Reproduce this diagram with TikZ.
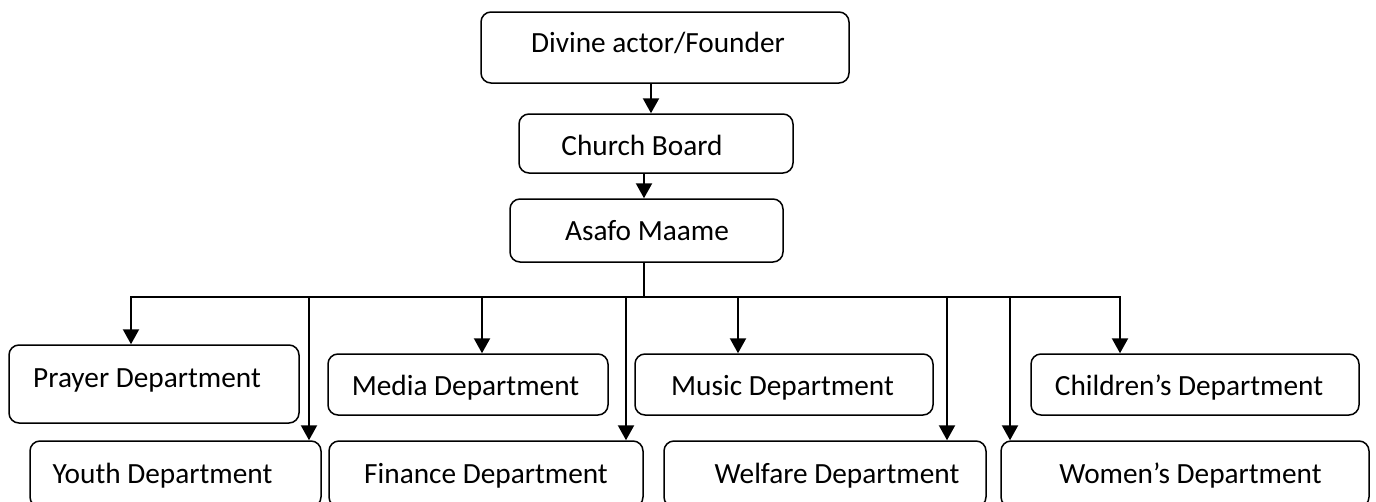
\documentclass[tikz,border=0pt]{standalone}
\usepackage{fontspec}
\setmainfont{Carlito}
\usetikzlibrary{arrows.meta}

\tikzset{
  unit/.style={draw, line width=1.5pt, rounded corners=10pt, inner sep=0pt},
  txt/.style={font=\fontsize{29.3}{34}\selectfont, text height=18.9pt, text depth=0pt, inner sep=0pt},
  arr/.style={line width=2.2pt, -{Triangle[width=16pt,length=15pt]}},
  bus/.style={line width=1.9pt},
}

\begin{document}
\begin{tikzpicture}[x=1pt, y=-1pt]
\useasboundingbox (0,0) rectangle (1376,501);
\fill[white] (0,0) rectangle (1376,501);
\clip (0,0) rectangle (1376,501);

% top of the hierarchy
\node[unit, minimum width=368pt, minimum height=71pt,
  label={[txt, xshift=-7pt, yshift=4.5pt]center:Divine actor/Founder}] (divine) at (665,47.5) {};
\node[unit, minimum width=274pt, minimum height=59pt,
  label={[txt, xshift=-14pt, yshift=-2.5pt]center:Church Board}] (board) at (656,143.5) {};
\node[unit, minimum width=273pt, minimum height=63pt,
  label={[txt, xshift=0.5pt, yshift=-1pt]center:Asafo Maame}] (asafo) at (646.5,230.5) {};

% upper row of departments
\node[unit, minimum width=290pt, minimum height=78pt,
  label={[txt, xshift=-7pt, yshift=6pt]center:Prayer Department}] (prayer) at (154,384) {};
\node[unit, minimum width=280pt, minimum height=61pt,
  label={[txt, xshift=-2.5pt, yshift=-1.5pt]center:Media Department}] (media) at (468,384.5) {};
\node[unit, minimum width=298pt, minimum height=61pt,
  label={[txt, xshift=-1.5pt, yshift=-1.5pt]center:Music Department}] (music) at (784,384.5) {};
\node[unit, minimum width=328pt, minimum height=61pt,
  label={[txt, xshift=-6pt, yshift=-1.5pt]center:Children’s Department}] (children) at (1195,384.5) {};

% lower row of departments (runs off the bottom edge)
\node[unit, minimum width=291pt, minimum height=66pt,
  label={[txt, xshift=-13pt]center:Youth Department}] (youth) at (175.5,474) {};
\node[unit, minimum width=314pt, minimum height=66pt,
  label={[txt, xshift=0pt]center:Finance Department}] (finance) at (486,474) {};
\node[unit, minimum width=322pt, minimum height=66pt,
  label={[txt, xshift=12pt]center:Welfare Department}] (welfare) at (825,474) {};
\node[unit, minimum width=368pt, minimum height=66pt,
  label={[txt, xshift=5.5pt]center:Women’s Department}] (women) at (1185,474) {};

% vertical chain at the top
\draw[arr] ([xshift=-14pt]divine.south) -- ([xshift=-14pt]divine.south |- board.north);
\draw[arr] ([xshift=-12pt]board.south) -- ([xshift=-12pt]board.south |- asafo.north);

% distribution bus
\coordinate (b1) at (131,297);
\coordinate (b2) at (309,297);
\coordinate (b3) at (482,297);
\coordinate (b4) at (626,297);
\coordinate (b5) at (738,297);
\coordinate (b6) at (947,297);
\coordinate (b7) at (1010,297);
\coordinate (b8) at (1120,297);

\draw[bus] ([xshift=-2.5pt]asafo.south) -- ([xshift=-2.5pt]asafo.south |- b1);
\draw[bus, line cap=rect] (b1) -- (b8);

\draw[arr] (b1) -- (b1 |- prayer.north);
\draw[arr] (b2) -- (b2 |- youth.north);
\draw[arr] (b3) -- (b3 |- media.north);
\draw[arr] (b4) -- (b4 |- finance.north);
\draw[arr] (b5) -- (b5 |- music.north);
\draw[arr] (b6) -- (b6 |- welfare.north);
\draw[arr] (b7) -- (b7 |- women.north);
\draw[arr] (b8) -- (b8 |- children.north);
\end{tikzpicture}
\end{document}
